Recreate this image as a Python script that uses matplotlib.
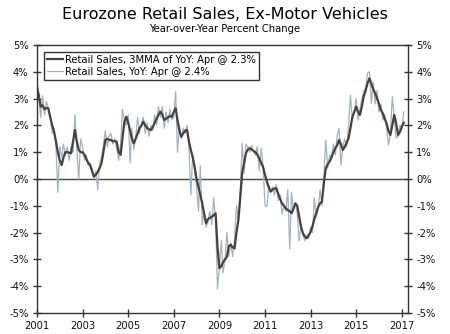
import numpy as np
import pandas as pd
import matplotlib
matplotlib.use('Agg')
import matplotlib.pyplot as plt
import matplotlib.dates as mdates

# Monthly readings, Jan 2001 onwards
mma_3m = [
    3.44, 3.1, 2.7, 2.75, 2.6, 2.65, 2.64, 2.3, 2.0, 1.77, 1.4, 1.0,        # 2001
    0.7, 0.52, 0.8, 1.0, 1.0, 0.98, 0.96, 1.4, 1.83, 1.4, 1.08, 1.0,         # 2002
    1.0, 0.9, 0.75, 0.6, 0.52, 0.3, 0.09, 0.15, 0.27, 0.4, 0.59, 1.0,        # 2003
    1.46, 1.5, 1.45, 1.46, 1.4, 1.42, 1.39, 1.0, 0.9, 1.5, 2.14, 2.32,       # 2004
    2.1, 1.8, 1.5, 1.33, 1.5, 1.7, 1.9, 2.0, 2.14, 2.0, 1.9, 1.85,           # 2005
    1.83, 1.95, 2.1, 2.25, 2.4, 2.51, 2.4, 2.2, 2.25, 2.3, 2.35, 2.32,       # 2006
    2.5, 2.64, 2.2, 1.8, 1.58, 1.7, 1.8, 1.83, 1.4, 1.08, 0.8, 0.46,         # 2007
    0.0, -0.3, -0.6, -0.91, -1.3, -1.65, -1.5, -1.45, -1.41, -1.35, -1.28, -2.53,  # 2008
    -3.33, -3.25, -3.1, -3.0, -2.9, -2.5, -2.45, -2.55, -2.59, -2.0, -1.53, -0.7,  # 2009
    0.25, 0.6, 0.96, 1.1, 1.15, 1.1, 1.05, 1.0, 0.9, 0.77, 0.6, 0.45,        # 2010
    0.15, -0.1, -0.3, -0.47, -0.4, -0.35, -0.35, -0.55, -0.75, -0.91, -1.0, -1.1,  # 2011
    -1.16, -1.2, -1.28, -1.1, -0.91, -1.0, -1.4, -1.8, -2.03, -2.15, -2.21, -2.1,  # 2012
    -1.97, -1.75, -1.5, -1.28, -1.05, -0.91, -0.85, -0.15, 0.4, 0.55, 0.65, 0.8,   # 2013
    1.0, 1.15, 1.25, 1.46, 1.3, 1.08, 1.2, 1.35, 1.52, 1.9, 2.32, 2.5,       # 2014
    2.7, 2.5, 2.39, 2.7, 3.07, 3.3, 3.57, 3.76, 3.55, 3.35, 3.2, 3.01,       # 2015
    2.8, 2.57, 2.45, 2.25, 2.08, 1.8, 1.64, 2.0, 2.39, 2.1, 1.64, 1.75,      # 2016
    1.95, 2.1,                                                               # 2017
]

yoy = [
    3.6, 3.1, 2.3, 3.1, 2.4, 2.9, 2.6, 2.4, 1.7, 1.9, 1.2, -0.5,             # 2001
    1.2, 0.8, 1.3, 0.9, 1.2, 0.7, 1.2, 1.0, 2.4, 1.1, 0.0, 1.5,              # 2002
    1.2, 0.7, 0.9, 0.5, 0.6, 0.4, 0.0, 0.3, -0.4, 0.6, 0.8, 1.3,             # 2003
    1.8, 1.2, 1.6, 1.7, 1.3, 1.5, 1.1, 0.7, 1.3, 2.6, 2.2, 2.0,              # 2004
    2.4, 0.6, 1.9, 1.1, 1.6, 2.3, 1.7, 2.1, 2.3, 1.7, 2.1, 1.6,              # 2005
    2.0, 1.8, 2.4, 2.0, 2.7, 2.3, 2.7, 1.9, 2.5, 2.1, 2.6, 2.2,              # 2006
    2.3, 3.26, 1.0, 2.0, 1.5, 1.9, 1.7, 2.0, 1.2, -0.6, 0.9, 0.3,            # 2007
    -0.3, -1.2, 0.5, -1.7, -1.2, -1.8, -1.6, -1.2, -1.7, -0.7, -1.5, -4.1,   # 2008
    -3.3, -2.3, -3.5, -3.0, -2.0, -2.9, -2.4, -2.9, -2.2, -1.0, -1.5, -0.4,  # 2009
    1.33, 0.2, 1.3, 1.2, 1.0, 1.25, 1.0, 0.9, 1.2, 0.3, 1.15, 0.5,           # 2010
    -0.97, -1.03, -0.2, -0.5, -0.3, -0.6, -0.2, -0.8, -0.6, -1.3, -1.0, -1.2,  # 2011
    -0.4, -2.6, -0.5, -1.2, -0.9, -1.3, -2.3, -1.7, -2.1, -2.3, -2.1, -2.2,  # 2012
    -1.8, -2.0, -0.7, -1.4, -1.1, -0.4, -1.0, 0.1, 1.46, 0.4, 0.9, 0.8,      # 2013
    1.3, 0.9, 1.6, 1.89, 0.52, 1.2, 1.5, 1.2, 2.0, 3.13, 2.2, 2.5,           # 2014
    3.0, 2.2, 2.6, 3.0, 3.26, 3.4, 3.94, 4.0, 2.82, 3.6, 2.8, 3.3,           # 2015
    2.5, 2.8, 2.2, 2.4, 1.9, 1.27, 1.7, 3.07, 2.3, 1.52, 1.58, 2.0,          # 2016
    1.9, 2.5,                                                                # 2017
]

dates = pd.date_range('2001-01-01', periods=len(mma_3m), freq='MS')
year_ticks = list(range(2001, 2018, 2))
y_ticks = list(range(-5, 6))

label_mma = 'Retail Sales, 3MMA of YoY: Apr @ 2.3%'
label_yoy = 'Retail Sales, YoY: Apr @ 2.4%'

fig = plt.figure(figsize=(4.5, 3.34), dpi=100)
ax = fig.add_axes([0.0822, 0.0629, 0.8245, 0.8024])

ax.plot(dates, mma_3m, color='#4b4038', linewidth=1.6, label=label_mma, zorder=3)
ax.plot(dates, yoy, color='#9fb3c4', linewidth=0.9, label=label_yoy, zorder=2)
ax.axhline(0, color='#444444', linewidth=1.0, zorder=1)

ax.set_xlim(pd.Timestamp('2001-01-01'), pd.Timestamp('2017-04-10'))
ax.set_ylim(-5, 5)
ax.set_xticks([pd.Timestamp(f'{y}-01-01') for y in year_ticks])
ax.xaxis.set_major_formatter(mdates.DateFormatter('%Y'))
ax.set_yticks(y_ticks)
ax.set_yticklabels([f'{v}%' for v in y_ticks])

for s in ax.spines.values():
    s.set_color('#333333')
    s.set_linewidth(1.0)
ax.tick_params(axis='both', direction='inout', length=6, width=1.0,
               color='#333333', labelsize=7.2, labelcolor='#111111', pad=3)
ax.tick_params(axis='y', right=True, labelright=True)

leg = ax.legend(loc='upper left', bbox_to_anchor=(0.019, 0.974), fontsize=7.2,
                frameon=True, fancybox=False, edgecolor='black',
                handlelength=1.6, handletextpad=0.2, borderpad=0.3,
                labelspacing=0.2, borderaxespad=0.0)
leg.get_frame().set_linewidth(1.0)

fig.text(0.5, 0.958, 'Eurozone Retail Sales, Ex-Motor Vehicles', ha='center',
         va='center', fontsize=11.5)
fig.text(0.5, 0.912, 'Year-over-Year Percent Change', ha='center',
         va='center', fontsize=7.2)

fig.savefig('out.png', dpi=100)
